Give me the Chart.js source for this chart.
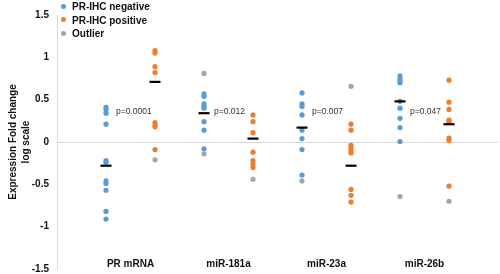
<!DOCTYPE html>
<html><head><meta charset="utf-8">
<script src="https://cdn.jsdelivr.net/npm/chart.js@4.4.1/dist/chart.umd.min.js"></script>
<style>
html,body{margin:0;padding:0;background:#fff;overflow:hidden;width:500px;height:274px;}
#wrap{position:relative;width:500px;height:274px;overflow:hidden;}
#c{display:block;width:500px;height:283px;}
#legend{position:absolute;left:61px;top:0;font:bold 10px 'Liberation Sans',Arial,sans-serif;color:#111;}
#legend div{height:13.5px;line-height:13.5px;white-space:nowrap;}
#legend span{display:inline-block;width:5px;height:5px;border-radius:50%;margin-right:6px;vertical-align:middle;position:relative;top:-1px;}
</style></head>
<body><div id="wrap"><canvas id="c" width="500" height="283"></canvas><div id="legend"></div></div>
<script>
const categories = ['PR mRNA', 'miR-181a', 'miR-23a', 'miR-26b'];
const seriesNames = ['PR-IHC negative', 'PR-IHC positive', 'Outlier'];
const negValues = [
  [0.41, 0.38, 0.34, 0.21, -0.22, -0.24, -0.46, -0.49, -0.57, -0.82, -0.91],
  [0.57, 0.54, 0.45, 0.42, 0.40, 0.24, 0.14, -0.08],
  [0.58, 0.45, 0.42, 0.32, 0.14, 0.04, -0.09, -0.39],
  [0.78, 0.75, 0.72, 0.70, 0.48, 0.40, 0.28, 0.17, 0.005]
];
const posValues = [
  [1.08, 1.05, 0.89, 0.82, 0.23, 0.20, 0.18, -0.09],
  [0.32, 0.24, 0.11, -0.12, -0.22, -0.26, -0.30],
  [0.21, 0.14, -0.04, -0.07, -0.10, -0.13, -0.56, -0.63, -0.71],
  [0.73, 0.47, 0.385, 0.26, 0.24, 0.045, 0.02, -0.52]
];
const negOutliers = [[], [0.81, -0.14], [-0.46], [-0.645]];
const posOutliers = [[-0.21], [-0.44], [0.657], [-0.70]];
const negMeans = [-0.28, 0.34, 0.17, 0.48];
const posMeans = [0.71, 0.04, -0.28, 0.21];
const pLabels = ['p=0.0001', 'p=0.012', 'p=0.007', 'p=0.047'];
const pLabelY = [0.36, 0.36, 0.36, 0.36];
const yTicks = [-1.5, -1, -0.5, 0, 0.5, 1, 1.5];

const colors = ['#5B9BD5', '#ED7D31', '#A5A5A5'];
const FONT = "'Liberation Sans', Arial, sans-serif";

function pts(arrs, offset) {
  const out = [];
  arrs.forEach((vals, i) => vals.forEach(v => out.push({x: 2 * i + offset, y: v})));
  return out;
}

// HTML legend
const lg = document.getElementById('legend');
seriesNames.forEach((n, i) => {
  const d = document.createElement('div');
  const s = document.createElement('span');
  s.style.background = colors[i];
  d.appendChild(s);
  d.appendChild(document.createTextNode(n));
  lg.appendChild(d);
});

const pPlugin = {
  id: 'pvals',
  afterDatasetsDraw(chart) {
    const {ctx, scales: {x, y}} = chart;
    ctx.save();
    ctx.font = "8.5px " + FONT;
    ctx.fillStyle = '#333';
    ctx.textBaseline = 'middle';
    ctx.textAlign = 'left';
    pLabels.forEach((t, i) => {
      ctx.fillText(t, x.getPixelForValue(2 * i + 1) + 10, y.getPixelForValue(pLabelY[i]));
    });
    ctx.restore();
  }
};

const dotStyle = {pointRadius: 2.6, pointHoverRadius: 2.6, borderWidth: 0, showLine: false};

new Chart(document.getElementById('c'), {
  type: 'scatter',
  data: {
    datasets: [
      Object.assign({label: seriesNames[0], data: pts(negValues, 1), backgroundColor: colors[0], borderColor: colors[0]}, dotStyle),
      Object.assign({label: seriesNames[1], data: pts(posValues, 2), backgroundColor: colors[1], borderColor: colors[1]}, dotStyle),
      Object.assign({label: seriesNames[2], data: pts(negOutliers, 1).concat(pts(posOutliers, 2)), backgroundColor: colors[2], borderColor: colors[2]}, dotStyle),
      {label: 'mean', order: -1, data: pts(negMeans.map(v => [v]), 1).concat(pts(posMeans.map(v => [v]), 2)),
       pointStyle: 'line', pointRadius: 5.5, pointHoverRadius: 5.5, borderColor: '#000', backgroundColor: '#000', borderWidth: 2.2, showLine: false}
    ]
  },
  options: {
    responsive: false,
    maintainAspectRatio: false,
    animation: false,
    devicePixelRatio: 1,
    layout: {autoPadding: false, padding: {left: 7, right: 2, top: 15, bottom: 0}},
    plugins: {legend: {display: false}, tooltip: {enabled: false}},
    scales: {
      x: {
        type: 'linear', min: 0, max: 9,
        position: {y: -1.37},
        afterFit: ax => { ax.height = 0; },
        afterBuildTicks: ax => { ax.ticks = categories.map((c, i) => ({value: 2 * i + 1.5})); },
        ticks: {
          callback: (v) => categories[Math.round((v - 1.5) / 2)],
          font: {family: FONT, size: 10, weight: 'bold'}, color: '#111',
          padding: 0, maxRotation: 0, autoSkip: false
        },
        grid: {display: false, drawTicks: false},
        border: {display: false}
      },
      y: {
        min: -1.5, max: 1.5,
        afterFit: ax => { ax.width = 50; },
        afterBuildTicks: ax => { ax.ticks = yTicks.map(v => ({value: v})); },
        ticks: {
          callback: v => String(v),
          font: {family: FONT, size: 10, weight: 'bold'}, color: '#111', padding: 8
        },
        grid: {drawTicks: false, lineWidth: 1,
          color: c => (c.tick && c.tick.value === 0) ? '#d9d9d9' : 'rgba(0,0,0,0)'},
        border: {display: true, color: '#d9d9d9', width: 1},
        title: {display: true, text: ['Expression Fold change', 'log scale'],
          font: {family: FONT, size: 10, weight: 'bold', lineHeight: 1.3}, color: '#111', padding: {top: 0, bottom: 2}}
      }
    }
  },
  plugins: [pPlugin]
});
</script>
</body></html>
